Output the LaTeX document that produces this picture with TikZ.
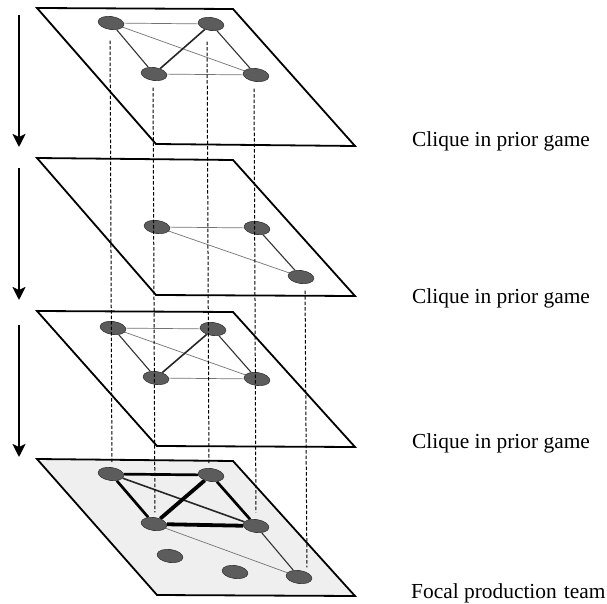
\documentclass[tikz,border=0pt]{standalone}
\usepackage{fontspec}
\setmainfont{Liberation Serif}
\usetikzlibrary{arrows.meta,shapes.geometric}
\definecolor{vertexfill}{HTML}{5C5C5C}
\definecolor{vertexline}{HTML}{383838}
\definecolor{teamfill}{HTML}{EFEFEF}
\pgfdeclarelayer{planes}
\pgfdeclarelayer{ties}
\pgfsetlayers{planes,ties,main}
\tikzset{
  vertex/.style={ellipse, minimum width=26pt, minimum height=13pt, inner sep=0pt,
                 fill=vertexfill, draw=vertexline, line width=0.6pt, rotate=-8},
  layer/.style={draw=black, line width=1.8pt, line join=miter, fill=white},
  teamlayer/.style={layer, fill=teamfill},
  tiethin/.style={draw=black!55, line width=0.7pt},
  tiemid/.style={draw=black!80, line width=1.1pt},
  tiebold/.style={draw=black!85, line width=1.6pt},
  tiestrong/.style={draw=black, line width=2.7pt},
  tiemax/.style={draw=black, line width=3.8pt},
  guide/.style={draw=black, line width=1pt, dash pattern=on 3.5pt off 2pt},
  timearrow/.style={draw=black, line width=2.2pt, -{Stealth[length=13pt,width=13pt,inset=3pt]}},
  caption/.style={anchor=base west, inner sep=0pt, font=\fontsize{21.4}{25}\selectfont}
}
\begin{document}
\begin{tikzpicture}[x=1pt, y=-1pt]
\useasboundingbox (0,0) rectangle (607,604);

% ---------- the four layers ----------
\begin{pgfonlayer}{planes}
\draw[layer] (37,8) -- (233,9) -- (355,146) -- (156,144) -- cycle;
\draw[layer] (37,158) -- (233,160) -- (355,296) -- (156,295) -- cycle;
\draw[layer] (37,311) -- (233,312) -- (355,447) -- (157,446) -- cycle;
\draw[teamlayer] (37,459) -- (233,461) -- (355,596) -- (157,595) -- cycle;
\end{pgfonlayer}

% ---------- members ----------
\node[vertex] (A1) at (111,23) {};
\node[vertex] (B1) at (211,24) {};
\node[vertex] (C1) at (154,74) {};
\node[vertex] (D1) at (256,75) {};

\node[vertex] (C2) at (157,227) {};
\node[vertex] (D2) at (257,228) {};
\node[vertex] (E2) at (301,277) {};

\node[vertex] (A3) at (113,328) {};
\node[vertex] (B3) at (213,329) {};
\node[vertex] (C3) at (156,378) {};
\node[vertex] (D3) at (257,379) {};

\node[vertex] (A4) at (111,474) {};
\node[vertex] (B4) at (211,475) {};
\node[vertex] (C4) at (154,524) {};
\node[vertex] (D4) at (256,526) {};
\node[vertex] (E4) at (299,577) {};
\node[vertex] (F4) at (170,556) {};
\node[vertex] (G4) at (235,572) {};

% ---------- ties ----------
\begin{pgfonlayer}{ties}
\path[tiethin]  (A1) -- (B1);
\path[tiemid]   (A1) -- (C1);
\path[tiethin]  (A1) -- (D1);
\path[tiebold]  (B1) -- (C1);
\path[tiemid]   (B1) -- (D1);
\path[tiethin]  (C1) -- (D1);

\path[tiethin]  (C2) -- (D2);
\path[tiethin]  (C2) -- (E2);
\path[tiemid]   (D2) -- (E2);

\path[tiethin]  (A3) -- (B3);
\path[tiemid]   (A3) -- (C3);
\path[tiethin]  (A3) -- (D3);
\path[tiebold]  (B3) -- (C3);
\path[tiemid]   (B3) -- (D3);
\path[tiethin]  (C3) -- (D3);

\path[tiestrong] (A4) -- (B4);
\path[tiestrong] (A4) -- (C4);
\path[tiebold]   (A4) -- (D4);
\path[tiemax]    (B4) -- (C4);
\path[tiestrong] (B4) -- (D4);
\path[tiemax]    (C4) -- (D4);
\path[tiethin]   (C4) -- (E4);
\path[tiemid]    (D4) -- (E4);
\end{pgfonlayer}

% ---------- vertical guides linking the same members ----------
\draw[guide] ([shift={(0,11)}]A1.south) -- ([shift={(0,-4)}]A4.north);
\draw[guide] ([shift={(0,7)}]C1.south)  -- ([shift={(0,-5)}]C4.north);
\draw[guide] ([shift={(-3,11)}]B1.south) -- ([shift={(-3,-4)}]B4.north);
\draw[guide] ([shift={(-1,7)}]D1.south) -- ([shift={(-1,-7)}]D4.north);
\draw[guide] ([shift={(5,7)}]E2.south)  -- ([shift={(7,-3)}]E4.north);

% ---------- time arrows ----------
\coordinate (t1s) at (19,15);  \coordinate (t1e) at (19,147);
\coordinate (t2s) at (19,168); \coordinate (t2e) at (19,300);
\coordinate (t3s) at (19,325); \coordinate (t3e) at (19,457);
\draw[timearrow] (t1s) -- (t1e);
\draw[timearrow] (t2s) -- (t2e);
\draw[timearrow] (t3s) -- (t3e);

% ---------- captions ----------
\node[caption] (L1) at (412,147) {Clique in prior game};
\node[caption] (L2) at (412,303) {Clique in prior game};
\node[caption] (L3) at (412,448) {Clique in prior game};
\node[caption] (L4) at (411,598) {Focal production\hspace{0.08em} team};
\end{tikzpicture}
\end{document}
